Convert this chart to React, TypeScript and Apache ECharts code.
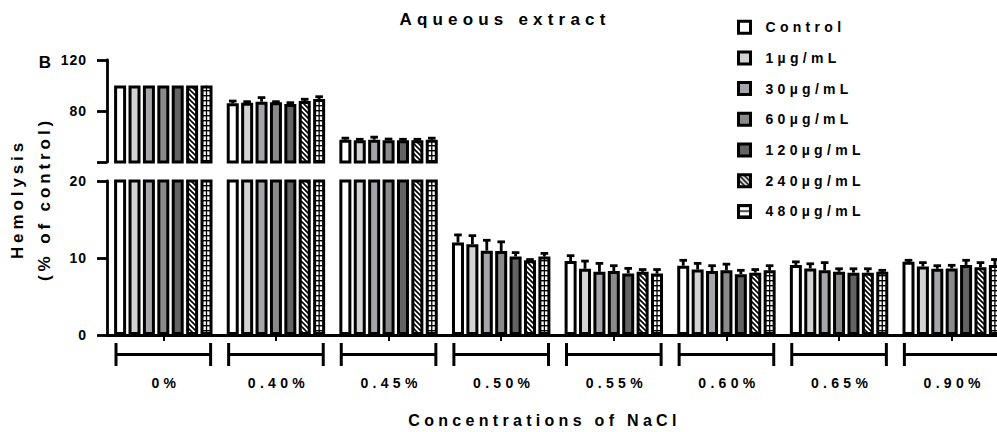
import React, { useEffect, useRef } from 'react';
import * as echarts from 'echarts';

const TITLE = 'Aqueous extract';
const categories = ['0%', '0.40%', '0.45%', '0.50%', '0.55%', '0.60%', '0.65%', '0.90%'];
const seriesNames = ['Control', '1µg/mL', '30µg/mL', '60µg/mL', '120µg/mL', '240µg/mL', '480µg/mL'];

const control = [100, 86.0, 57.5, 12.0, 9.6, 9.0, 9.1, 9.5];
const ug1 = [100, 86.5, 57.0, 11.8, 8.6, 8.5, 8.65, 8.9];
const ug30 = [100, 87.3, 57.5, 10.95, 8.2, 8.3, 8.4, 8.6];
const ug60 = [100, 86.8, 57.0, 10.9, 8.3, 8.4, 8.2, 8.65];
const ug120 = [100, 85.5, 57.0, 10.2, 8.0, 7.9, 8.1, 9.1];
const ug240 = [100, 87.8, 57.0, 9.7, 8.2, 8.1, 8.1, 8.8];
const ug480 = [100, 89.4, 57.5, 10.2, 8.0, 8.4, 8.2, 9.1];

const controlErr = [0, 1.8, 1.2, 1.0, 0.7, 0.7, 0.4, 0.2];
const ug1Err = [0, 0.8, 0.8, 1.1, 1.0, 0.8, 0.6, 0.5];
const ug30Err = [0, 3.2, 2.0, 1.35, 1.1, 0.7, 1.0, 0.4];
const ug60Err = [0, 0.5, 1.0, 1.2, 0.7, 0.8, 0.4, 0.4];
const ug120Err = [0, 1.0, 0.8, 0.5, 0.65, 0.5, 0.5, 0.6];
const ug240Err = [0, 1.4, 0.8, 0.1, 0.3, 0.4, 0.5, 0.6];
const ug480Err = [0, 1.8, 1.2, 0.4, 0.5, 0.6, 0.2, 0.7];

const upperTicks = [40, 80, 120];
const lowerTicks = [0, 10, 20];

const seriesVals = [control, ug1, ug30, ug60, ug120, ug240, ug480];
const seriesErrs = [controlErr, ug1Err, ug30Err, ug60Err, ug120Err, ug240Err, ug480Err];

const FONT = '"Liberation Sans", Arial, Helvetica, sans-serif';
const BAR_W = 12;
const BAR_GAP = 0.2;
const PITCH = BAR_W * (1 + BAR_GAP);

function makeHatch(): HTMLCanvasElement {
  const s = 5;
  const c = document.createElement('canvas');
  c.width = s;
  c.height = s;
  const ctx = c.getContext('2d')!;
  ctx.fillStyle = '#fff';
  ctx.fillRect(0, 0, s, s);
  ctx.strokeStyle = '#000';
  ctx.lineWidth = 1.6;
  ctx.beginPath();
  ctx.moveTo(-1, -1);
  ctx.lineTo(s + 1, s + 1);
  ctx.moveTo(-1, s - 1);
  ctx.lineTo(1, s + 1);
  ctx.moveTo(s - 1, -1);
  ctx.lineTo(s + 1, 1);
  ctx.stroke();
  return c;
}

function makeLines(): HTMLCanvasElement {
  const c = document.createElement('canvas');
  c.width = 4;
  c.height = 5;
  const ctx = c.getContext('2d')!;
  ctx.fillStyle = '#fff';
  ctx.fillRect(0, 0, 4, 5);
  ctx.fillStyle = '#000';
  ctx.fillRect(0, 0, 4, 1.4);
  return c;
}

function applySpacing(root: HTMLElement) {
  root.querySelectorAll('text').forEach((t) => {
    const s = t.textContent || '';
    let ls = 4.3;
    if (s === TITLE) ls = 5.2;
    else if (/^\d+$/.test(s)) ls = 1;
    else if (s === 'B') ls = 0;
    else if (s === 'Hemolysis' || s === '(% of control)') ls = 3.9;
    t.setAttribute('letter-spacing', String(ls));
  });
}

export default function App() {
  const ref = useRef<HTMLDivElement>(null);

  useEffect(() => {
    const el = ref.current!;
    const chart = echarts.init(el, null, { renderer: 'svg' });
    const fills: any[] = [
      '#ffffff',
      '#d3d3d3',
      '#a5a5aa',
      '#8a8a8a',
      '#636363',
      { image: makeHatch(), repeat: 'repeat' },
      { image: makeLines(), repeat: 'repeat' },
    ];

    const renderErr = (params: any, api: any) => {
      const cat = api.value(0);
      const si = api.value(1);
      const v = api.value(2);
      const e = api.value(3);
      const cs = params.coordSys;
      const yTop = cs.y;
      const yBot = cs.y + cs.height;
      const p = api.coord([cat, v]);
      const x = p[0] + (si - 3) * PITCH;
      const children: any[] = [];
      if (si === 6) {
        const yv = Math.max(p[1], yTop);
        if (yv < yBot) {
          children.push({
            type: 'line',
            shape: { x1: x, y1: yv, x2: x, y2: yBot },
            style: { stroke: '#000', lineWidth: 1.3 },
          });
        }
      }
      if (e > 0 && p[1] >= yTop && p[1] <= yBot) {
        const y1 = api.coord([cat, v + e])[1];
        children.push({
          type: 'line',
          shape: { x1: x, y1: p[1], x2: x, y2: y1 },
          style: { stroke: '#000', lineWidth: 2.8 },
        });
        children.push({
          type: 'line',
          shape: { x1: x - 3.8, y1: y1, x2: x + 3.8, y2: y1 },
          style: { stroke: '#000', lineWidth: 2.8 },
        });
      }
      return { type: 'group', children };
    };

    const renderBracket = (params: any, api: any) => {
      const p = api.coord([api.value(0), 0]);
      const half = api.size([1, 0])[0] * 0.42;
      const st = { stroke: '#000', lineWidth: 3 };
      return {
        type: 'group',
        children: [
          { type: 'line', shape: { x1: p[0] - half, y1: p[1] + 19.5, x2: p[0] + half, y2: p[1] + 19.5 }, style: st },
          { type: 'line', shape: { x1: p[0] - half, y1: p[1] + 8, x2: p[0] - half, y2: p[1] + 31 }, style: st },
          { type: 'line', shape: { x1: p[0] + half, y1: p[1] + 8, x2: p[0] + half, y2: p[1] + 31 }, style: st },
        ],
      };
    };

    const errData = seriesVals.flatMap((vals, si) => vals.map((v, ci) => [ci, si, v, seriesErrs[si][ci]]));

    const series: any[] = [];
    seriesVals.forEach((vals, i) => {
      const itemStyle = { color: fills[i], borderColor: '#000', borderWidth: 3 };
      series.push({
        type: 'bar',
        name: seriesNames[i],
        xAxisIndex: 0,
        yAxisIndex: 0,
        data: vals.map((v) => (v >= upperTicks[0] ? v : '-')),
        barWidth: BAR_W,
        barGap: BAR_GAP * 100 + '%',
        itemStyle,
        silent: true,
      });
      series.push({
        type: 'bar',
        name: seriesNames[i],
        xAxisIndex: 1,
        yAxisIndex: 1,
        data: vals,
        barWidth: BAR_W,
        barGap: BAR_GAP * 100 + '%',
        itemStyle,
        silent: true,
      });
    });
    [0, 1].forEach((g) => {
      series.push({
        type: 'custom',
        xAxisIndex: g,
        yAxisIndex: g,
        silent: true,
        data: errData,
        encode: { x: 0, y: 2 },
        renderItem: renderErr,
        z: 3,
      });
    });
    series.push({
      type: 'custom',
      xAxisIndex: 1,
      yAxisIndex: 1,
      silent: true,
      data: categories.map((_, i) => [i, 0]),
      encode: { x: 0, y: 1 },
      renderItem: renderBracket,
      z: 3,
    });

    const axisLine = { show: true, lineStyle: { color: '#000', width: 2.8 } };
    const labelStyle = { color: '#000', fontSize: 14, fontWeight: 'bold', fontFamily: FONT };

    const option: any = {
      animation: false,
      backgroundColor: '#fff',
      title: {
        text: TITLE,
        left: 'center',
        top: 6,
        padding: [5, 17, 5, 5],
        textStyle: { color: '#000', fontSize: 17, fontWeight: 'bold', fontFamily: FONT },
      },
      legend: {
        data: seriesNames,
        orient: 'vertical',
        left: 737,
        top: 19.7,
        padding: 0,
        itemWidth: 12,
        itemHeight: 12,
        itemGap: 15.7,
        icon: 'rect',
        selectedMode: false,
        itemStyle: { borderWidth: 3, borderColor: '#000' },
        textStyle: { ...labelStyle, lineHeight: 14, padding: [0, 0, 0, 10] },
      },
      grid: [
        { left: 107, right: 2, top: 60, height: 102 },
        { left: 107, right: 2, top: 181, height: 154 },
      ],
      xAxis: [
        { type: 'category', gridIndex: 0, data: categories, show: false },
        {
          type: 'category',
          gridIndex: 1,
          data: categories,
          axisLine,
          axisTick: { show: true, alignWithLabel: true, length: 6, lineStyle: { color: '#000', width: 2 } },
          axisLabel: { ...labelStyle, margin: 41, padding: [0, 0, 0, 5] },
          name: 'Concentrations of NaCl',
          nameLocation: 'middle',
          nameGap: 77,
          nameTextStyle: { color: '#000', fontSize: 16, fontWeight: 'bold', fontFamily: FONT, padding: [0, 26, 0, 0] },
        },
      ],
      yAxis: [
        {
          type: 'value',
          gridIndex: 0,
          min: upperTicks[0],
          max: upperTicks[upperTicks.length - 1],
          interval: upperTicks[1] - upperTicks[0],
          axisLine,
          axisTick: { show: true, length: 10, lineStyle: { color: '#000', width: 2.8 } },
          axisLabel: { ...labelStyle, margin: 20, formatter: (v: number) => (v === upperTicks[0] ? '' : String(v)) },
          splitLine: { show: false },
        },
        {
          type: 'value',
          gridIndex: 1,
          min: lowerTicks[0],
          max: lowerTicks[lowerTicks.length - 1],
          interval: lowerTicks[1] - lowerTicks[0],
          axisLine,
          axisTick: { show: true, length: 10, lineStyle: { color: '#000', width: 2.8 } },
          axisLabel: { ...labelStyle, margin: 20 },
          splitLine: { show: false },
        },
      ],
      graphic: [
        {
          type: 'text',
          x: 45,
          y: 62,
          style: { text: 'B', fill: '#000', font: `bold 17px ${FONT}`, align: 'center', verticalAlign: 'middle' },
        },
        {
          type: 'text',
          x: 31,
          y: 199,
          rotation: Math.PI / 2,
          style: {
            text: 'Hemolysis\n(% of control)',
            fill: '#000',
            font: `bold 17px ${FONT}`,
            lineHeight: 27,
            align: 'center',
            verticalAlign: 'middle',
          },
        },
      ],
      series,
    };

    chart.setOption(option);
    const apply = () => applySpacing(el);
    apply();
    chart.on('finished', apply);
    chart.on('rendered', apply);
    return () => {
      chart.dispose();
    };
  }, []);

  return (
    <div
      style={{
        position: 'absolute',
        left: 0,
        top: 0,
        width: 997,
        height: 432,
        overflow: 'hidden',
        background: '#fff',
      }}
    >
      <div ref={ref} style={{ width: 1010, height: 432 }} />
    </div>
  );
}
